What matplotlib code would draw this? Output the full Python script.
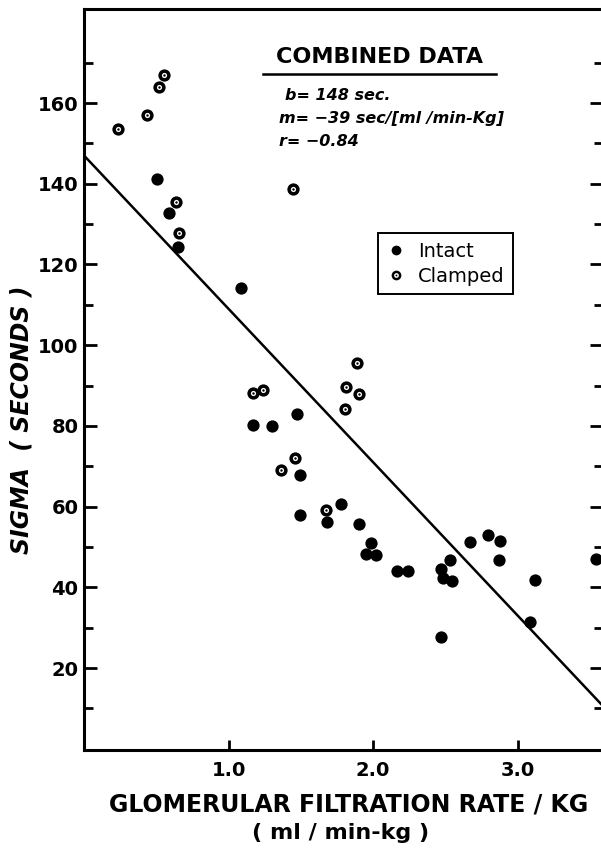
import matplotlib
matplotlib.use("Agg")
import matplotlib.pyplot as plt
import numpy as np
from matplotlib.lines import Line2D
from matplotlib.legend_handler import HandlerTuple

# ---- data ----
intact_x = [0.506, 0.586, 0.650, 1.088, 1.168, 1.299, 1.473, 1.497, 1.497, 1.680,
            1.777, 1.901, 1.984, 1.952, 2.018, 2.168, 2.243, 2.469, 2.480, 2.547,
            2.529, 2.667, 2.795, 2.878, 2.869, 3.122, 3.085, 2.469, 3.543]
intact_y = [141.3, 132.8, 124.4, 114.1, 80.2, 80.1, 82.9, 67.8, 57.9, 56.2,
            60.7, 55.6, 50.9, 48.2, 48.0, 44.0, 44.0, 44.5, 42.4, 41.5,
            46.8, 51.3, 52.9, 51.5, 46.9, 41.7, 31.3, 27.6, 47.0]
clamped_x = [0.237, 0.434, 0.522, 0.554, 0.639, 0.655, 1.448, 1.166, 1.239, 1.459,
             1.360, 1.887, 1.809, 1.899, 1.807, 1.673]
clamped_y = [153.5, 157.0, 164.0, 166.9, 135.5, 127.8, 138.7, 88.1, 88.8, 72.1,
             69.1, 95.7, 89.6, 87.8, 84.2, 59.1]
fit_b = 147.0
fit_m = -38.0
x_ticks = [1.0, 2.0, 3.0]
x_ticklabels = ["1.0", "2.0", "3.0"]
y_major = [20, 40, 60, 80, 100, 120, 140, 160]
y_minor = [10, 30, 50, 70, 90, 110, 130, 150, 170]

FONT = "DejaVu Sans"

fig = plt.figure(figsize=(6.01, 8.51), dpi=100)
ax = fig.add_axes([84/601, 101/851, (603-84)/601, (842-101)/851])
ax.set_xlim(0, 3.59)
ax.set_ylim(-0.3, 183.3)

# fit line
xl = np.array([0.0, 3.59])
ax.plot(xl, fit_b + fit_m * xl, color="black", lw=1.8, zorder=2)

ms_out = 78
ax.scatter(intact_x, intact_y, s=ms_out, color="black", lw=0, zorder=3)
ax.scatter(clamped_x, clamped_y, s=ms_out, color="black", lw=0, zorder=3)
ax.scatter(clamped_x, clamped_y, s=14, color="white", lw=0, zorder=4)
ax.scatter(clamped_x, clamped_y, s=3, color="black", lw=0, zorder=5)

# spines / ticks
for sp in ["left", "bottom", "right", "top"]:
    ax.spines[sp].set_linewidth(2.2)
ax.set_xticks(x_ticks)
ax.set_xticklabels(x_ticklabels)
ax.set_yticks(y_major)
ax.set_yticks(y_minor, minor=True)
ax.tick_params(axis="both", which="both", direction="in", width=2.0,
               right=True, top=False)
ax.tick_params(axis="y", which="major", length=9.5, pad=4)
ax.tick_params(axis="y", which="minor", length=6.5)
ax.tick_params(axis="x", which="major", length=7, pad=8)
for lab in ax.get_xticklabels() + ax.get_yticklabels():
    lab.set_fontfamily(FONT)
    lab.set_fontweight("bold")
    lab.set_fontsize(14)

# axis labels
fig.text(349/601, 1-805/851, "GLOMERULAR FILTRATION RATE / KG", ha="center",
         va="center", fontsize=17, fontweight="bold", family=FONT)
fig.text(341/601, 1-833/851, "( ml / min-kg )", ha="center", va="center",
         fontsize=16, fontweight="bold", family=FONT)
fig.text(22/601, 1-420/851, "SIGMA  ( SECONDS )", ha="center", va="center",
         rotation=90, fontsize=17, fontweight="bold", style="italic", family=FONT)

# annotation
fig.text(380/601, 1-57/851, "COMBINED DATA", ha="center", va="center",
         fontsize=16, fontweight="bold", family=FONT)
fig.add_artist(Line2D([263/601, 496/601], [1-74/851, 1-74/851],
                      color="black", lw=1.8, transform=fig.transFigure))
fig.text(285/601, 1-95/851, "b= 148 sec.", ha="left", va="center",
         fontsize=11.5, fontweight="bold", style="italic", family=FONT)
fig.text(279/601, 1-119/851, "m= \u221239 sec/[ml /min-Kg]", ha="left",
         va="center", fontsize=11.5, fontweight="bold", style="italic", family=FONT)
fig.text(279/601, 1-142/851, "r= \u22120.84", ha="left", va="center",
         fontsize=11.5, fontweight="bold", style="italic", family=FONT)

# legend
h_int = Line2D([], [], ls="none", marker="o", ms=7, color="black", mew=0)
h_c1 = Line2D([], [], ls="none", marker="o", ms=7, color="black", mew=0)
h_c2 = Line2D([], [], ls="none", marker="o", ms=3.4, color="white", mew=0)
h_c3 = Line2D([], [], ls="none", marker="o", ms=1.3, color="black", mew=0)
leg = fig.legend([h_int, (h_c1, h_c2, h_c3)], ["Intact", "Clamped"],
                 handler_map={tuple: HandlerTuple(ndivide=1)},
                 loc="upper left", bbox_to_anchor=(378/601, 1-233/851),
                 bbox_transform=fig.transFigure, frameon=True, fancybox=False,
                 edgecolor="black", framealpha=1, handlelength=0.9,
                 handletextpad=0.7, borderpad=0.45, labelspacing=0.3,
                 borderaxespad=0.0,
                 prop={"family": FONT, "size": 14})
leg.get_frame().set_linewidth(1.4)

fig.savefig("out.png", dpi=100)
